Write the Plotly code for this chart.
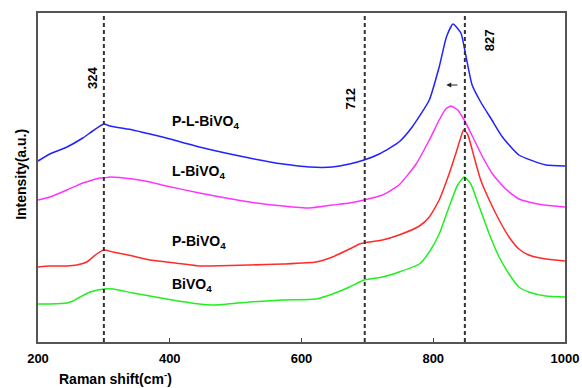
import plotly.graph_objects as go

# ---- data ----
blue_x = [200, 218, 244, 268, 283, 300, 309, 344, 370, 395, 445, 521, 572, 612, 647, 673, 695, 718, 748, 768, 794, 809, 820, 830, 842, 849, 859, 872, 889, 905, 930, 971, 1000]
blue_y = [181, 188, 195, 204, 211, 218, 216, 212, 208, 204, 195, 184, 178, 175, 175, 178, 182, 188, 200, 215, 242, 275, 305, 318, 309, 288, 257, 240, 222, 205, 187, 177, 176]

mag_x = [200, 218, 244, 268, 294, 300, 309, 344, 370, 395, 445, 521, 572, 612, 647, 673, 695, 723, 748, 774, 794, 809, 819, 827, 837, 847, 860, 875, 890, 910, 930, 945, 968, 1000]
mag_y = [142, 145, 152, 159, 164, 164, 165, 163, 160, 156, 149, 140, 136, 134, 137, 139, 142, 147, 157, 178, 202, 222, 233, 236, 232, 222, 205, 185, 168, 153, 143, 140, 137, 135]

red_x = [200, 218, 244, 259, 274, 289, 300, 314, 344, 370, 395, 445, 461, 521, 572, 622, 647, 673, 688, 695, 723, 748, 779, 794, 809, 824, 834, 842, 846, 852, 862, 872, 885, 900, 915, 930, 945, 971, 1000]
red_y = [75, 76, 76, 77, 80, 88, 92, 90, 86, 82, 80, 76, 76, 77, 78, 80, 85, 93, 98, 99, 102, 107, 116, 125, 142, 168, 188, 205, 212, 208, 185, 162, 142, 122, 105, 93, 87, 83, 81]

green_x = [200, 218, 244, 253, 264, 279, 300, 314, 344, 395, 445, 470, 521, 572, 622, 647, 673, 688, 695, 723, 748, 779, 794, 809, 824, 837, 847, 857, 870, 885, 900, 915, 930, 945, 971, 1000]
green_y = [38, 38, 39, 41, 45, 50, 53, 53, 49, 43, 38, 37, 40, 42, 43, 48, 55, 60, 62, 65, 70, 78, 90, 108, 135, 157, 165, 158, 135, 108, 85, 68, 55, 50, 46, 45]

series_names = ["P-L-BiVO<sub>4</sub>", "L-BiVO<sub>4</sub>", "P-BiVO<sub>4</sub>", "BiVO<sub>4</sub>"]
series_colors = ["#2222ff", "#ff33ff", "#ff2a2a", "#22ee22"]
label_y = [220, 170, 100, 57]
label_x = 400

vline_x = [300, 696, 848]
vline_labels = ["324", "712", "827"]
vline_label_pos = [(282, 264), (673, 243), (885, 302)]

x_ticks = [200, 400, 600, 800, 1000]

FONT = "Arial, Liberation Sans, sans-serif"

fig = go.Figure()
for xs, ys, name, col in zip([blue_x, mag_x, red_x, green_x], [blue_y, mag_y, red_y, green_y], series_names, series_colors):
    fig.add_trace(go.Scatter(x=xs, y=ys, mode="lines", name=name,
                             line=dict(color=col, width=1.5, shape="spline", smoothing=0.5),
                             showlegend=False, hoverinfo="skip"))

for xv in vline_x:
    fig.add_shape(type="line", x0=xv, x1=xv, y0=0, y1=1, xref="x", yref="paper",
                  line=dict(color="#333333", width=2, dash="4px,3px"))

for (lx, ly), txt in zip(vline_label_pos, vline_labels):
    fig.add_annotation(x=lx, y=ly, text=txt, showarrow=False, textangle=-90,
                       font=dict(family=FONT, size=13, color="black", weight="bold"))

for name, ly in zip(series_names, label_y):
    fig.add_annotation(x=label_x, y=ly, text=name, showarrow=False, xanchor="left",
                       font=dict(family=FONT, size=14, color="black", weight="bold"))

# small arrow pointing left
fig.add_annotation(x=820, y=257, ax=839, ay=257, xref="x", yref="y", axref="x", ayref="y",
                   text="", showarrow=True, arrowhead=2, arrowsize=0.8, arrowwidth=1.2,
                   arrowcolor="#222222")

fig.update_layout(
    width=582, height=388,
    margin=dict(l=38, r=17, t=13, b=46, autoexpand=False),
    paper_bgcolor="white", plot_bgcolor="white",
    font=dict(family=FONT, color="black"),
    xaxis=dict(range=[200, 1000], tickvals=x_ticks, ticks="inside", ticklen=4,
               tickcolor="#444444", showline=True, linecolor="#555555", linewidth=1.5,
               mirror=True, showgrid=False, zeroline=False, automargin=False,
               ticklabelstandoff=4,
               tickfont=dict(family=FONT, size=13, color="black", weight="bold"),
               title=dict(text="")),
    yaxis=dict(range=[0, 329], showticklabels=False, ticks="", showline=True,
               linecolor="#555555", linewidth=1.5, mirror=True, showgrid=False,
               zeroline=False, automargin=False, title=dict(text="")),
)

fig.add_annotation(x=318, y=-0.11, xref="x", yref="paper", text="Raman shift(cm<sup>-</sup>)",
                   showarrow=False, yanchor="middle",
                   font=dict(family=FONT, size=14, color="black", weight="bold"))
fig.add_annotation(x=-0.05, y=0.51, xref="paper", yref="paper", text="Intensity(a.u.)",
                   showarrow=False, textangle=-90,
                   font=dict(family=FONT, size=14, color="black", weight="bold"))

fig.write_html("out.html")
